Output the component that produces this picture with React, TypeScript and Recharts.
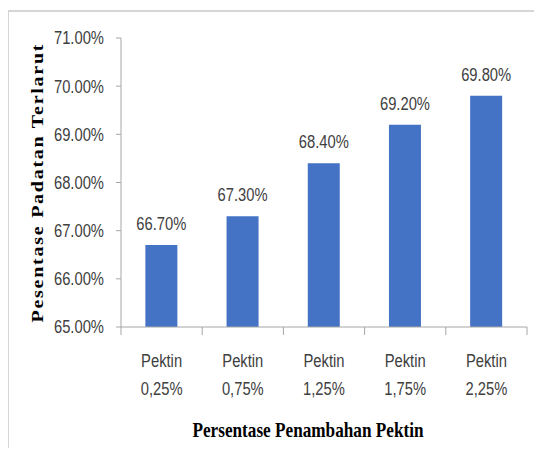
import React from 'react';
import { BarChart, Bar, XAxis, YAxis, LabelList } from 'recharts';

const categories = ['Pektin 0,25%', 'Pektin 0,75%', 'Pektin 1,25%', 'Pektin 1,75%', 'Pektin 2,25%'];
const values = [66.7, 67.3, 68.4, 69.2, 69.8];
const yTicks = [65, 66, 67, 68, 69, 70, 71];
const xTitle = 'Persentase Penambahan Pektin';
const yTitle = 'Pesentase Padatan Terlarut';

const data = categories.map((c, i) => ({ name: c, value: values[i] }));

const SANS = "'Liberation Sans', Arial, sans-serif";
const SERIF = "'Liberation Serif', 'Times New Roman', serif";
const AXIS = '#a6a6a6';
const TXT = '#404040';
const FS = 18;
const SQUEEZE = 0.82;

const fmt = (v: number) => v.toFixed(2) + '%';

// approximate Arial advance widths (em) used to condense text horizontally
const W: Record<string, number> = {
  '0': 0.556, '1': 0.556, '2': 0.556, '3': 0.556, '4': 0.556, '5': 0.556, '6': 0.556, '7': 0.556, '8': 0.556, '9': 0.556,
  '.': 0.278, ',': 0.278, '%': 0.889, P: 0.667, e: 0.556, k: 0.5, t: 0.278, i: 0.222, n: 0.556,
};
const textLen = (s: string) => s.split('').reduce((a, c) => a + (W[c] ?? 0.556), 0) * FS * SQUEEZE;

const NText = ({ x, y, s, anchor = 'middle', dy }: { x: number; y: number; s: string; anchor?: string; dy?: string }) => (
  <text
    x={x}
    y={y}
    dy={dy}
    textAnchor={anchor as any}
    fill={TXT}
    fontSize={FS}
    fontFamily={SANS}
    textLength={textLen(s)}
    lengthAdjust="spacingAndGlyphs"
  >
    {s}
  </text>
);

const XTick = (props: any) => {
  const { x, y, payload, index, width, visibleTicksCount } = props;
  const half = payload && payload.offset ? payload.offset : width / visibleTicksCount / 2;
  const parts = String(payload.value).split(' ');
  const last = index === visibleTicksCount - 1;
  return (
    <g>
      <line x1={x - half} x2={x - half} y1={y} y2={y + 8} stroke={AXIS} strokeWidth={1} />
      {last && <line x1={x + half} x2={x + half} y1={y} y2={y + 8} stroke={AXIS} strokeWidth={1} />}
      <NText x={x} y={y + 40} s={parts[0]} />
      <NText x={x} y={y + 68} s={parts[1]} />
    </g>
  );
};

const YTick = (props: any) => {
  const { x, y, payload } = props;
  return <NText x={x} y={y} dy="0.36em" anchor="end" s={fmt(Number(payload.value))} />;
};

const ValueLabel = (props: any) => {
  const { x, y, width, value } = props;
  return <NText x={Number(x) + Number(width) / 2} y={Number(y) - 15} s={fmt(Number(value))} />;
};

const XTitle = (props: any) => {
  const vb = props.viewBox || { x: 121, y: 327, width: 406 };
  return (
    <text
      x={vb.x + vb.width / 2 - 16}
      y={vb.y + 110}
      textAnchor="middle"
      fontFamily={SERIF}
      fontWeight="bold"
      fontSize={21}
      fill="#000"
      textLength={231}
      lengthAdjust="spacingAndGlyphs"
    >
      {xTitle}
    </text>
  );
};

const YTitle = (props: any) => {
  const vb = props.viewBox || { x: 21, y: 38, height: 289 };
  const cx = vb.x + 17;
  const cy = vb.y + vb.height / 2 + 1;
  return (
    <text
      transform={`translate(${cx}, ${cy}) scale(0.8, 1) rotate(-90)`}
      x={0}
      y={0}
      textAnchor="middle"
      dominantBaseline="central"
      fontFamily={SERIF}
      fontWeight="bold"
      fontSize={20}
      fill="#000"
      textLength={278}
      lengthAdjust="spacing"
    >
      {yTitle}
    </text>
  );
};

export default function App() {
  return (
    <div style={{ position: 'relative', margin: '-8px', width: 542, height: 456, overflow: 'hidden', background: '#fff' }}>
      <div
        style={{
          position: 'absolute',
          left: 7,
          top: 10,
          width: 560,
          height: 470,
          border: '2px solid #d6d6d6',
          boxSizing: 'border-box',
        }}
      />
      <div style={{ position: 'absolute', left: 0, top: 0 }}>
        <BarChart
          width={542}
          height={456}
          data={data}
          margin={{ top: 38, right: 15, left: 21, bottom: 19 }}
          barCategoryGap="30%"
        >
          <XAxis
            dataKey="name"
            type="category"
            height={110}
            axisLine={{ stroke: AXIS }}
            tickLine={false}
            tickSize={0}
            tickMargin={0}
            tick={<XTick />}
            interval={0}
            label={{ content: <XTitle /> } as any}
          />
          <YAxis
            width={100}
            domain={[65, 71]}
            ticks={yTicks}
            interval={0}
            axisLine={{ stroke: AXIS }}
            tickLine={{ stroke: AXIS }}
            tickSize={5}
            tickMargin={12}
            tick={<YTick />}
            allowDataOverflow
            label={{ content: <YTitle /> } as any}
          />
          <Bar dataKey="value" fill="#4472C4" isAnimationActive={false}>
            <LabelList dataKey="value" content={<ValueLabel />} />
          </Bar>
        </BarChart>
      </div>
    </div>
  );
}
